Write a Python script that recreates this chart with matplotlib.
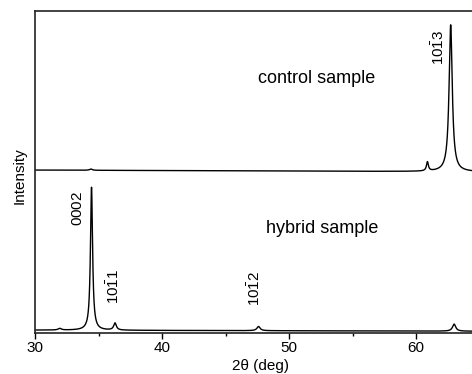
import numpy as np
import matplotlib
matplotlib.use("Agg")
import matplotlib.pyplot as plt
from matplotlib.ticker import MultipleLocator

plt.rcParams['font.family'] = ['Liberation Sans', 'DejaVu Sans']
plt.rcParams['mathtext.fontset'] = 'custom'
plt.rcParams['mathtext.rm'] = 'Liberation Sans'
plt.rcParams['mathtext.it'] = 'Liberation Sans:italic'

# Peak lists (2theta position, height, FWHM), intensity in arbitrary units
control_pos = [34.4, 60.9, 62.73]
control_height = [0.4, 2.8, 45.6]
control_fwhm = [0.25, 0.18, 0.30]
control_baseline = [50.6, 50.0]   # baseline at 30 deg and at 70 deg

hybrid_pos = [31.95, 34.45, 36.3, 47.6, 63.0]
hybrid_height = [0.5, 44.4, 2.2, 1.3, 2.2]
hybrid_fwhm = [0.3, 0.2, 0.25, 0.3, 0.3]
hybrid_baseline = [0.9, 0.5]

peak_labels = [r'$\mathregular{0002}$', r'$\mathregular{10\bar{1}1}$',
               r'$\mathregular{10\bar{1}2}$', r'$\mathregular{10\bar{1}3}$']
label_x = [33.4, 36.15, 47.3, 61.8]
label_y = [38.8, 14.6, 14.0, 88.8]

x_ticks = [30, 40, 50, 60]
x_range = [30, 70]


def pattern(x, pos, height, fwhm, base):
    y = base[0] + (base[1] - base[0]) * (x - x_range[0]) / (x_range[1] - x_range[0])
    for p, h, w in zip(pos, height, fwhm):
        g = w / 2.0
        y = y + h * g**2 / ((x - p)**2 + g**2)
    return y


x = np.linspace(x_range[0], x_range[1], 8000)
y_control = pattern(x, control_pos, control_height, control_fwhm, control_baseline)
y_hybrid = pattern(x, hybrid_pos, hybrid_height, hybrid_fwhm, hybrid_baseline)

fig = plt.figure(figsize=(4.72, 3.74), dpi=100)
W, H = 472, 374
px_per_deg = 12.7
ax = fig.add_axes([35 / W, (H - 333) / H, (x_range[1] - x_range[0]) * px_per_deg / W, 322 / H])

ax.plot(x, y_control, color='black', lw=1.0)
ax.plot(x, y_hybrid, color='black', lw=1.0)

ax.set_xlim(*x_range)
ax.set_ylim(0, 100)
ax.set_xticks(x_ticks)
ax.xaxis.set_minor_locator(MultipleLocator(5))
ax.tick_params(axis='x', which='major', direction='out', length=4, width=1.0, labelsize=11, pad=2)
ax.tick_params(axis='x', which='minor', direction='out', length=2.5, width=1.0)
ax.set_yticks([])
ax.spines['right'].set_visible(False)
for s in ['left', 'top', 'bottom']:
    ax.spines[s].set_linewidth(1.2)
    ax.spines[s].set_color('#222222')

fig.text(261 / W, 1 - 366 / H, '2θ (deg)', fontsize=11, ha='center', va='center')
fig.text(20 / W, 1 - 176 / H, 'Intensity', rotation=90, fontsize=11, ha='center', va='center')

ax.text(47.55, 78.9, 'control sample', fontsize=13, ha='left', va='center')
ax.text(48.2, 32.6, 'hybrid sample', fontsize=13, ha='left', va='center')

for lab, lx, ly in zip(peak_labels, label_x, label_y):
    ax.text(lx, ly, lab, rotation=90, fontsize=11, ha='center', va='center')

fig.savefig('out.png', dpi=100)
